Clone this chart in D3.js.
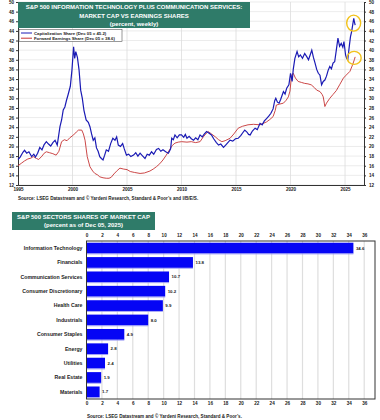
<!DOCTYPE html>
<html>
<head>
<meta charset="utf-8">
<script src="https://cdn.jsdelivr.net/npm/d3@7"></script>
<style>
  html, body { margin: 0; padding: 0; background: #fff; }
  svg { display: block; }
  text { font-family: "Liberation Sans", Arial, sans-serif; font-weight: bold; }
</style>
</head>
<body>
<svg id="chart" width="380" height="420"></svg>
<script>
// ---------- Top chart data (decimal year, percent) ----------
const capYears = [1995.0,1995.2,1995.45,1995.6,1995.8,1996.0,1996.25,1996.45,1996.6,1996.8,1997.0,1997.2,1997.4,1997.6,1997.8,1998.0,1998.2,1998.4,1998.6,1998.85,1999.0,1999.15,1999.3,1999.45,1999.6,1999.8,1999.95,2000.1,2000.2,2000.3,2000.45,2000.6,2000.75,2000.9,2001.05,2001.25,2001.45,2001.6,2001.75,2001.9,2002.05,2002.2,2002.35,2002.5,2002.65,2002.8,2002.95,2003.1,2003.3,2003.5,2003.7,2003.9,2004.05,2004.2,2004.4,2004.6,2004.75,2004.95,2005.15,2005.35,2005.6,2005.8,2006.0,2006.2,2006.4,2006.65,2006.85,2007.05,2007.25,2007.45,2007.7,2007.9,2008.1,2008.3,2008.55,2008.8,2009.0,2009.1,2009.25,2009.4,2009.6,2009.8,2010.0,2010.2,2010.35,2010.5,2010.7,2010.9,2011.1,2011.3,2011.5,2011.7,2011.9,2012.1,2012.3,2012.5,2012.75,2012.95,2013.2,2013.4,2013.6,2013.85,2014.05,2014.25,2014.45,2014.7,2014.95,2015.2,2015.45,2015.6,2015.8,2016.0,2016.15,2016.3,2016.5,2016.75,2016.95,2017.2,2017.4,2017.6,2017.8,2018.0,2018.2,2018.4,2018.55,2018.65,2018.8,2018.95,2019.1,2019.35,2019.5,2019.65,2019.85,2020.0,2020.15,2020.25,2020.4,2020.6,2020.75,2020.9,2021.1,2021.3,2021.5,2021.65,2021.8,2021.95,2022.1,2022.25,2022.4,2022.55,2022.7,2022.85,2023.0,2023.15,2023.3,2023.45,2023.6,2023.75,2023.9,2024.05,2024.2,2024.35,2024.5,2024.65,2024.8,2024.9,2025.05,2025.15,2025.25,2025.4,2025.5,2025.6,2025.7,2025.8,2025.85,2025.93];
const capShare = [17.3,17.8,18.8,19.2,18.6,18.9,17.9,18.4,17.8,18.6,19.8,19.3,20.4,21.0,20.5,20.1,20.8,21.3,20.3,24.1,25.5,27.6,28.2,29.6,30.8,32.5,35.9,40.7,38.3,39.7,38.5,35.9,31.7,30.0,27.5,25.5,25.0,24.1,22.6,21.3,21.8,19.7,19.0,17.9,17.5,17.2,18.2,19.3,19.0,20.6,21.7,21.3,22.0,20.3,20.0,20.6,19.5,18.2,18.4,17.9,18.2,18.7,18.0,18.6,18.1,17.5,18.4,18.2,18.9,18.4,19.4,19.6,19.0,19.3,18.9,18.6,19.5,21.7,21.4,22.4,21.8,22.4,22.4,21.9,22.5,21.7,22.1,21.6,21.3,21.8,21.4,22.4,22.0,22.6,23.1,22.8,22.4,21.6,20.8,20.3,20.5,19.8,20.3,20.8,21.3,21.1,21.6,21.7,22.3,22.8,23.4,23.0,22.5,22.4,23.2,23.8,23.5,24.8,24.5,25.3,25.8,26.3,26.9,27.8,29.5,30.0,29.2,29.0,29.8,31.4,30.9,32.1,32.8,35.2,33.5,36.0,38.3,39.7,38.6,39.0,38.3,39.3,38.6,38.0,39.0,40.0,38.5,37.3,36.0,35.2,34.8,32.8,33.5,33.8,34.6,35.8,36.6,36.1,37.3,37.6,40.0,42.5,40.8,41.4,40.6,41.8,39.0,38.3,38.0,41.0,42.8,43.8,45.2,46.6,46.0,45.2];

const earnYears = [1995.0,1995.3,1995.6,1995.9,1996.2,1996.4,1996.7,1996.9,1997.2,1997.4,1997.6,1997.9,1998.2,1998.5,1998.75,1999.0,1999.25,1999.5,1999.75,2000.1,2000.35,2000.55,2000.85,2001.0,2001.15,2001.35,2001.6,2001.85,2002.05,2002.3,2002.5,2002.8,2003.1,2003.35,2003.55,2003.8,2004.1,2004.35,2004.7,2005.0,2005.3,2005.7,2006.2,2006.6,2007.1,2007.4,2007.7,2008.0,2008.3,2008.6,2008.9,2009.15,2009.4,2009.7,2010.0,2010.5,2010.9,2011.3,2011.7,2012.0,2012.3,2012.45,2012.75,2013.1,2013.4,2013.7,2014.0,2014.45,2014.8,2015.2,2015.6,2016.1,2016.6,2017.2,2017.5,2017.8,2018.1,2018.4,2018.6,2018.7,2019.0,2019.35,2019.6,2019.8,2019.95,2020.1,2020.25,2020.45,2020.7,2021.0,2021.3,2021.6,2021.9,2022.2,2022.4,2022.7,2022.9,2023.0,2023.1,2023.15,2023.3,2023.6,2023.9,2024.2,2024.5,2024.85,2025.1,2025.45,2025.7,2025.85,2025.93];
const earnShare = [16.0,16.5,17.0,17.4,17.6,17.9,17.5,17.3,18.0,18.6,18.9,18.7,18.5,18.2,19.0,21.0,21.4,21.2,21.8,22.4,23.0,23.4,23.4,22.6,21.3,17.9,15.8,14.9,14.4,14.1,13.7,13.5,13.4,13.4,13.6,14.3,15.0,15.5,15.3,15.2,14.8,14.6,14.4,14.5,14.9,15.3,15.8,16.4,17.2,18.2,19.3,20.2,20.7,20.9,21.0,20.9,21.0,20.8,21.0,22.0,22.8,23.1,22.6,22.0,21.4,21.0,21.2,21.7,22.6,23.8,24.2,24.5,24.6,24.5,24.8,25.1,25.6,26.2,27.5,28.6,28.8,29.0,29.6,30.3,31.5,34.8,35.2,34.2,33.5,33.3,33.1,33.0,32.8,32.2,31.7,31.4,30.8,30.3,29.0,28.3,29.0,30.0,30.8,31.6,32.8,34.2,34.8,35.6,37.0,38.0,38.6];

const topYTicks = [12,14,16,18,20,22,24,26,28,30,32,34,36,38,40,42,44,46,48,50];
const topXTicks = [1995,2000,2005,2010,2015,2020,2025];
const topTitle = ["S&P 500 INFORMATION TECHNOLOGY PLUS COMMUNICATION SERVICES:", "MARKET CAP VS EARNINGS SHARES", "(percent, weekly)"];
const topLegend = ["Capitalization Share (Dec 05 = 45.2)", "Forward Earnings Share (Dec 05 = 38.6)"];
const topSource = "Source: LSEG Datastream and \u00A9 Yardeni Research, Standard & Poor\u2019s and I/B/E/S.";

// ---------- Bottom chart data ----------
const sectors = ["Information Technology","Financials","Communication Services","Consumer Discretionary","Health Care","Industrials","Consumer Staples","Energy","Utilities","Real Estate","Materials"];
const sectorShares = [34.6,13.8,10.7,10.2,9.9,8.0,4.9,2.8,2.4,1.9,1.7];
const barTicks = [0,2,4,6,8,10,12,14,16,18,20,22,24,26,28,30,32,34,36];
const barTitle = ["S&P 500 SECTORS SHARES OF MARKET CAP", "(percent as of Dec 05, 2025)"];
const barSource = "Source: LSEG Datastream and \u00A9 Yardeni Research, Standard & Poor\u2019s.";

const TEAL = "#2f7b69";
const BLUE = "#1a1ab4";
const RED = "#c53333";

const svg = d3.select("#chart");

// ================= TOP CHART =================
const tx = d3.scaleLinear().domain([1995, 2026.74]).range([18, 364]);
const ty = d3.scaleLinear().domain([12, 50]).range([185, 2]);

const topG = svg.append("g");
topG.append("g").selectAll("line").data(topYTicks).join("line")
  .attr("x1", tx.range()[0]).attr("x2", tx.range()[1])
  .attr("y1", d => ty(d)).attr("y2", d => ty(d))
  .attr("stroke", "#e4e4e4").attr("stroke-width", 0.7);
topG.append("g").selectAll("line").data(topXTicks.slice(1)).join("line")
  .attr("x1", d => tx(d)).attr("x2", d => tx(d))
  .attr("y1", ty.range()[0]).attr("y2", ty.range()[1])
  .attr("stroke", "#dcdcdc").attr("stroke-width", 0.8);

const axL = topG.append("g").attr("transform", `translate(${tx.range()[0]},0)`)
  .call(d3.axisLeft(ty).tickValues(topYTicks).tickSize(2).tickPadding(2));
const axR = topG.append("g").attr("transform", `translate(${tx.range()[1]},0)`)
  .call(d3.axisRight(ty).tickValues(topYTicks).tickSize(2).tickPadding(3));
const axB = topG.append("g").attr("transform", `translate(0,${ty.range()[0]})`)
  .call(d3.axisBottom(tx).tickValues(topXTicks).tickFormat(d3.format("d")).tickSize(0).tickPadding(2.5));
[axL, axR, axB].forEach(a => {
  a.selectAll("text").attr("font-size", 4.6).attr("fill", "#222");
  a.selectAll("line").attr("stroke", "#333");
  a.select(".domain").attr("stroke", "#333").attr("stroke-width", 1);
});

const earnData = earnYears.map((y, i) => [y, earnShare[i]]);
const capData = capYears.map((y, i) => [y, capShare[i]]);
const line = d3.line().x(d => tx(d[0])).y(d => ty(d[1]));
topG.append("path").datum(earnData).attr("d", line)
  .attr("fill", "none").attr("stroke", RED).attr("stroke-width", 0.9);
topG.append("path").datum(capData).attr("d", line)
  .attr("fill", "none").attr("stroke", BLUE).attr("stroke-width", 1.2);

const lastCap = capData[capData.length - 1];
const lastEarn = earnData[earnData.length - 1];
topG.append("ellipse").attr("cx", tx(lastCap[0]) - 1.5).attr("cy", ty(lastCap[1]) - 2)
  .attr("rx", 7).attr("ry", 8).attr("fill", "none").attr("stroke", "#f2c21b").attr("stroke-width", 1.4);
topG.append("ellipse").attr("cx", tx(lastEarn[0]) - 1).attr("cy", ty(lastEarn[1]) + 1)
  .attr("rx", 7).attr("ry", 6.5).attr("fill", "none").attr("stroke", "#f2c21b").attr("stroke-width", 1.4);

topG.append("rect").attr("x", 18).attr("y", 2).attr("width", 232).attr("height", 26).attr("fill", TEAL);
topG.selectAll("text.title").data(topTitle).join("text").attr("class", "title")
  .attr("x", 134).attr("y", (d, i) => 9 + i * 8.5)
  .attr("text-anchor", "middle").attr("font-size", 6.0).attr("fill", "#fff").text(d => d);

topG.append("rect").attr("x", 19).attr("y", 29.5).attr("width", 103).attr("height", 12)
  .attr("fill", "#fff").attr("stroke", "#555").attr("stroke-width", 0.6);
const legColors = [BLUE, RED];
topLegend.forEach((t, i) => {
  const yy = 33 + i * 5.2;
  topG.append("line").attr("x1", 21).attr("x2", 32).attr("y1", yy).attr("y2", yy)
    .attr("stroke", legColors[i]).attr("stroke-width", 1);
  topG.append("text").attr("x", 34).attr("y", yy + 1.5).attr("font-size", 4.3).attr("fill", "#222").text(t);
});

topG.append("text").attr("x", 18).attr("y", 199.5).attr("font-size", 4.6).attr("fill", "#222").text(topSource);

// ================= BOTTOM CHART =================
const bx = d3.scaleLinear().domain([0, 37.4]).range([86.5, 375]);
const by = d3.scaleBand().domain(sectors).range([241, 399]).paddingInner(0.25).paddingOuter(0.12);

const botG = svg.append("g");
botG.append("rect").attr("x", 12).attr("y", 212).attr("width", 143).attr("height", 18).attr("fill", TEAL);
botG.selectAll("text.btitle").data(barTitle).join("text").attr("class", "btitle")
  .attr("x", 83.5).attr("y", (d, i) => 219 + i * 8)
  .attr("text-anchor", "middle").attr("font-size", 6.0).attr("fill", "#fff").text(d => d);

botG.append("g").selectAll("line").data(barTicks.slice(1)).join("line")
  .attr("x1", d => bx(d)).attr("x2", d => bx(d))
  .attr("y1", by.range()[0]).attr("y2", by.range()[1])
  .attr("stroke", "#dedede").attr("stroke-width", 1.2);

const bTop = botG.append("g").attr("transform", `translate(0,${by.range()[0]})`)
  .call(d3.axisTop(bx).tickValues(barTicks).tickSize(0).tickPadding(4));
const bBot = botG.append("g").attr("transform", `translate(0,${by.range()[1]})`)
  .call(d3.axisBottom(bx).tickValues(barTicks).tickSize(0).tickPadding(2.5));
[bTop, bBot].forEach(a => {
  a.selectAll("text").attr("font-size", 4.6).attr("fill", "#222");
  a.select(".domain").remove();
});

botG.append("g").selectAll("rect").data(sectors).join("rect")
  .attr("x", bx(0)).attr("y", d => by(d))
  .attr("width", (d, i) => bx(sectorShares[i]) - bx(0)).attr("height", by.bandwidth())
  .attr("fill", "#0505f5");
botG.append("g").selectAll("line").data(sectors).join("line")
  .attr("x1", bx(0)).attr("x2", (d, i) => bx(sectorShares[i]))
  .attr("y1", d => by(d) + by.bandwidth() + 0.4).attr("y2", d => by(d) + by.bandwidth() + 0.4)
  .attr("stroke", "#9a9af5").attr("stroke-width", 0.9);

botG.append("g").selectAll("text").data(sectors).join("text")
  .attr("x", (d, i) => bx(sectorShares[i]) + 2.5)
  .attr("y", d => by(d) + by.bandwidth() / 2 + 1.6)
  .attr("font-size", 4.4).attr("fill", "#222")
  .text((d, i) => sectorShares[i].toFixed(1));

botG.append("g").selectAll("text").data(sectors).join("text")
  .attr("x", 82.5).attr("y", d => by(d) + by.bandwidth() / 2 + 1.8)
  .attr("text-anchor", "end").attr("font-size", 5.2).attr("fill", "#222").text(d => d);

botG.append("rect").attr("x", bx.range()[0]).attr("y", by.range()[0])
  .attr("width", bx.range()[1] - bx.range()[0]).attr("height", by.range()[1] - by.range()[0])
  .attr("fill", "none").attr("stroke", "#333").attr("stroke-width", 1);

botG.append("text").attr("x", 87).attr("y", 418).attr("font-size", 4.6).attr("fill", "#222").text(barSource);
</script>
</body>
</html>
